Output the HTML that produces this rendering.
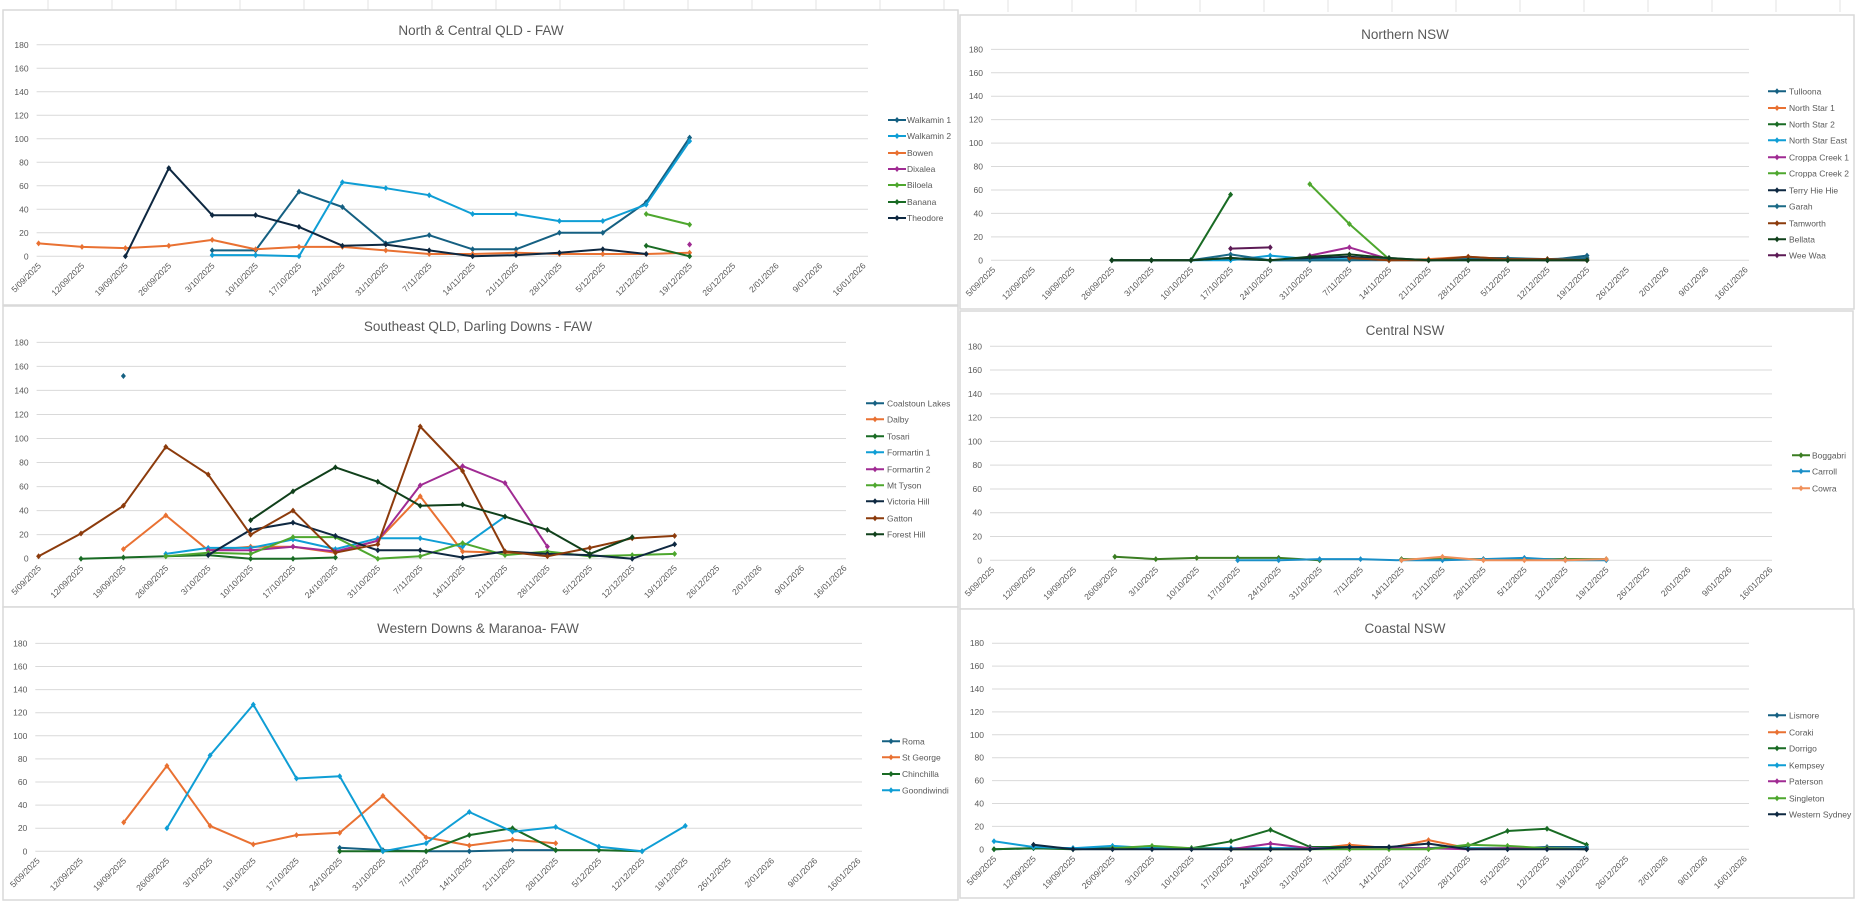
<!DOCTYPE html>
<html><head><meta charset="utf-8">
<style>
html,body{margin:0;padding:0;background:#fff;width:1859px;height:901px;overflow:hidden}
svg{display:block}
text{font-family:"Liberation Sans",sans-serif;fill:#595959}
</style></head><body>
<svg id="s" width="1859" height="901" xmlns="http://www.w3.org/2000/svg"></svg>
<script>
const dates=["5/09/2025","12/09/2025","19/09/2025","26/09/2025","3/10/2025","10/10/2025","17/10/2025","24/10/2025","31/10/2025","7/11/2025","14/11/2025","21/11/2025","28/11/2025","5/12/2025","12/12/2025","19/12/2025","26/12/2025","2/01/2026","9/01/2026","16/01/2026"];
function d(o){const a=new Array(20).fill(null);for(const k in o)a[k]=o[k];return a;}
const C={a1:"#156082",a2:"#E97132",a3:"#196B24",a4:"#0F9ED5",a5:"#A02B93",a6:"#4EA72E",dk:"#0E2841",br:"#8C3B0C",fg:"#10401B",wp:"#5C1A55",gr:"#1B6A86"};
const charts=[
{box:[3,10,955,295],title:"North & Central QLD - FAW",tx:481,ty:30,y0:256.3,sp:23.5,x0:38.6,st:43.4,gR:868,lm:888,lt:907,ly:[120,136,153,169,185,202,218],
s:[["Walkamin 1",C.a1,d({4:5,5:5,6:55,7:42,8:11,9:18,10:6,11:6,12:20,13:20,14:46,15:101})],
["Walkamin 2",C.a4,d({4:1,5:1,6:0,7:63,8:58,9:52,10:36,11:36,12:30,13:30,14:44,15:98})],
["Bowen",C.a2,d({0:11,1:8,2:7,3:9,4:14,5:6,6:8,7:8,8:5,9:2,10:2,11:3,12:2,13:2,14:2,15:3})],
["Dixalea",C.a5,d({15:10})],
["Biloela",C.a6,d({14:36,15:27})],
["Banana",C.a3,d({14:9,15:0})],
["Theodore",C.dk,d({2:0,3:75,4:35,5:35,6:25,7:9,8:10,9:5,10:0,11:1,12:3,13:6,14:2})]]},
{box:[960,15,894,294],title:"Northern NSW",tx:1405,ty:34,y0:260.3,sp:23.44,x0:993,st:39.6,gR:1749,lm:1768,lt:1789,ly:[91.3,108,124.3,140.3,157.3,173.3,190.3,206.3,223.3,239.3,255.3],
s:[["Tulloona",C.a1,d({3:0,4:0,5:0,6:1,7:0,8:0,9:0,10:0,11:0,12:0,13:0,14:0,15:4})],
["North Star 1",C.a2,d({9:2,10:0,11:1,12:3,13:1,14:1,15:1})],
["North Star 2",C.a3,d({3:0,4:0,5:0,6:56})],
["North Star East",C.a4,d({5:0,6:0,7:4,8:1,9:1,10:1})],
["Croppa Creek 1",C.a5,d({8:4,9:11,10:1})],
["Croppa Creek 2",C.a6,d({8:65,9:31,10:1})],
["Terry Hie Hie",C.dk,d({3:0,4:0,5:0,6:2,7:0,8:2,9:3,10:1,11:0,12:1,13:1,14:0,15:0})],
["Garah",C.gr,d({5:0,6:5,7:0,8:0,9:0,10:2,11:0,12:2,13:2,14:1,15:2})],
["Tamworth",C.br,d({9:2,10:0,11:0,12:3,13:1,14:1,15:0})],
["Bellata",C.fg,d({3:0,4:0,5:0,6:2,7:0,8:3,9:5,10:2,11:0,12:0,13:0,14:0,15:0})],
["Wee Waa",C.wp,d({6:10,7:11})]]},
{box:[3,306,955,301],title:"Southeast QLD, Darling Downs - FAW",tx:478,ty:326,y0:558.7,sp:24.04,x0:38.6,st:42.4,gR:846,lm:866,lt:887,ly:[403.3,419.3,436.3,452.3,469.3,485.3,501.3,518.3,534.3],
s:[["Coalstoun Lakes",C.a1,d({2:152})],
["Dalby",C.a2,d({2:8,3:36,4:7,5:10,6:10,7:5,8:15,9:52,10:6,11:5,12:4})],
["Tosari",C.a3,d({1:0,2:1,3:2,4:3,5:0,6:0,7:1})],
["Formartin 1",C.a4,d({3:4,4:9,5:9,6:16,7:8,8:17,9:17,10:10,11:35})],
["Formartin 2",C.a5,d({4:7,5:7,6:10,7:6,8:15,9:61,10:77,11:63,12:10})],
["Mt Tyson",C.a6,d({3:2,4:5,5:4,6:18,7:18,8:0,9:2,10:13,11:3,12:6,13:2,14:3,15:4})],
["Victoria Hill",C.dk,d({4:3,5:24,6:30,7:19,8:7,9:7,10:1,11:6,12:4,13:3,14:0,15:12})],
["Gatton",C.br,d({0:2,1:21,2:44,3:93,4:70,5:20,6:40,7:5,8:12,9:110,10:73,11:6,12:2,13:9,14:17,15:19})],
["Forest Hill",C.fg,d({5:32,6:56,7:76,8:64,9:44,10:45,11:35,12:24,13:4,14:18})]]},
{box:[960,311,893,298],title:"Central NSW",tx:1405,ty:330,y0:560.3,sp:23.78,x0:992,st:40.95,gR:1772,lm:1792,lt:1812,ly:[455.3,471.3,488.3],
s:[["Boggabri","#3A7D22",d({3:3,4:1,5:2,6:2,7:2,8:0,10:1,11:1,12:1,13:1,14:1,15:1})],
["Carroll","#1A8FC8",d({6:0,7:0,8:1,9:1,10:0,11:0,12:1,13:2,14:0,15:0})],
["Cowra","#F0905A",d({10:0,11:3,12:0,13:0,14:0,15:1})]]},
{box:[3,607,955,293],title:"Western Downs & Maranoa- FAW",tx:478,ty:628,y0:851.3,sp:23.1,x0:37.3,st:43.2,gR:862,lm:882,lt:902,ly:[741.3,757.3,774,790.3],
s:[["Roma",C.a1,d({7:3,8:1,9:0,10:0,11:1,12:1})],
["St George",C.a2,d({2:25,3:74,4:22,5:6,6:14,7:16,8:48,9:12,10:5,11:10,12:7})],
["Chinchilla",C.a3,d({7:0,8:0,9:0,10:14,11:20,12:1,13:1,14:0})],
["Goondiwindi",C.a4,d({3:20,4:83,5:127,6:63,7:65,8:0,9:7,10:34,11:17,12:21,13:4,14:0,15:22})]]},
{box:[960,609,894,289],title:"Coastal NSW",tx:1405,ty:628,y0:849.3,sp:22.9,x0:994,st:39.5,gR:1749,lm:1768,lt:1789,ly:[715.3,732.3,748.3,765.3,781.3,798.3,814.3],
s:[["Lismore",C.a1,d({0:0,1:1,2:1,3:1,4:1,5:1,6:1,7:1,8:1,9:1,10:1,11:1,12:1,13:1,14:2,15:2})],
["Coraki",C.a2,d({5:1,6:0,7:0,8:0,9:4,10:1,11:8,12:1,13:1,14:1,15:1})],
["Dorrigo",C.a3,d({0:0,1:1,2:0,3:1,4:2,5:1,6:7,7:17,8:2,9:2,10:1,11:1,12:3,13:16,14:18,15:4})],
["Kempsey",C.a4,d({0:7,1:2,2:1,3:3,4:1,5:1,6:1,7:1,8:1,9:1,10:1,11:1,12:1,13:1,14:1,15:1})],
["Paterson",C.a5,d({6:0,7:5,8:1,9:1,10:1,11:1,12:0,13:1,14:1,15:0})],
["Singleton",C.a6,d({3:1,4:3,5:1,6:0,7:0,8:0,9:0,10:0,11:0,12:4,13:3,14:1,15:0})],
["Western Sydney",C.dk,d({1:4,2:0,3:0,4:0,5:0,6:0,7:0,8:0,9:2,10:2,11:5,12:0,13:0,14:0,15:0})]]}
];
let h='';
// spreadsheet grid strip
for(let x=48;x<1859;x+=64){h+=`<line x1="${x}" y1="0" x2="${x}" y2="12" stroke="#e3e3e3"/>`;}
for(const c of charts){
 const [bx,by,bw,bh]=c.box;
 h+=`<rect x="${bx}" y="${by}" width="${bw}" height="${bh}" fill="#fff" stroke="#d9d9d9" stroke-width="1.5"/>`;
 h+=`<text x="${c.tx}" y="${c.ty+5}" font-size="13.5" text-anchor="middle">${c.title.replace(/&/g,'&amp;')}</text>`;
 const gL=c.x0-2;
 for(let v=0;v<=180;v+=20){const y=c.y0-v/20*c.sp;
  h+=`<line x1="${gL}" y1="${y}" x2="${c.gR}" y2="${y}" stroke="#d9d9d9" stroke-width="1"/>`;
  h+=`<text x="${c.x0-10}" y="${y+3}" font-size="8.5" text-anchor="end">${v}</text>`;}
 dates.forEach((t,i)=>{const x=c.x0+i*c.st+3,y=c.y0+10;
  h+=`<text x="${x}" y="${y}" font-size="8.5" text-anchor="end" transform="rotate(-45 ${x} ${y})">${t}</text>`;});
 c.s.forEach((s,k)=>{const [n,col,a]=s;let seg=[];const pts=[];
  const flush=()=>{if(seg.length>1)h+=`<polyline points="${seg.join(' ')}" fill="none" stroke="${col}" stroke-width="2" stroke-linejoin="round"/>`;seg=[];};
  a.forEach((v,i)=>{if(v===null){flush();return;}const x=c.x0+i*c.st,y=c.y0-v/20*c.sp;seg.push(x.toFixed(1)+','+y.toFixed(1));pts.push([x,y]);});
  flush();
  pts.forEach(([x,y])=>{h+=`<path d="M${x} ${y-3}L${x+2.5} ${y}L${x} ${y+3}L${x-2.5} ${y}Z" fill="${col}"/>`;});
  const ly=c.ly[k];
  h+=`<line x1="${c.lm}" y1="${ly}" x2="${c.lm+18}" y2="${ly}" stroke="${col}" stroke-width="2"/>`;
  h+=`<path d="M${c.lm+9} ${ly-3}L${c.lm+11.5} ${ly}L${c.lm+9} ${ly+3}L${c.lm+6.5} ${ly}Z" fill="${col}"/>`;
  h+=`<text x="${c.lt}" y="${ly+3}" font-size="8.5">${n}</text>`;
 });
}
document.getElementById('s').innerHTML=h;
</script>
</body></html>
